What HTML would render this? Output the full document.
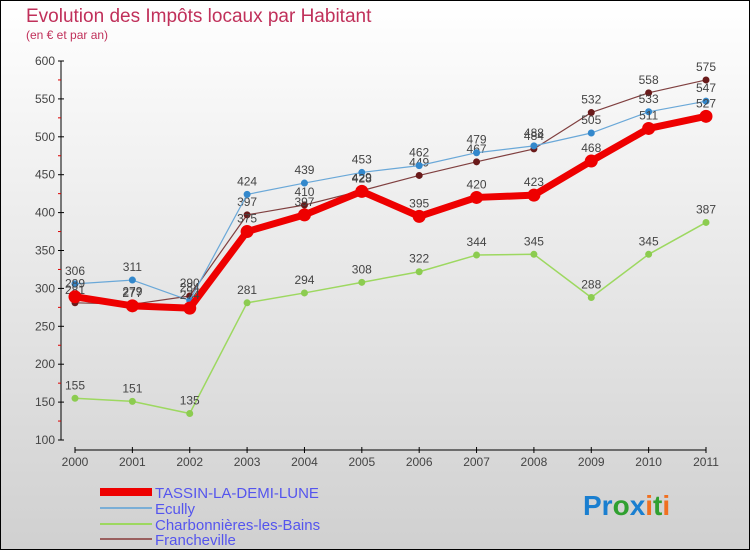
<!DOCTYPE html>
<html><head><meta charset="utf-8"><style>
body{margin:0;width:750px;height:550px;overflow:hidden;font-family:"Liberation Sans",sans-serif}
</style></head><body>
<svg id="c" width="750" height="550" xmlns="http://www.w3.org/2000/svg">
<defs><linearGradient id="bg" x1="0" y1="0" x2="0" y2="1"><stop offset="0" stop-color="#ffffff"/><stop offset="1" stop-color="#d0d0d0"/></linearGradient></defs>
<rect x="0.5" y="0.5" width="749" height="549" fill="url(#bg)" stroke="#000"/>
<text x="26" y="22" font-size="19" fill="#c0305a">Evolution des Impôts locaux par Habitant</text>
<text x="26" y="39" font-size="12" fill="#c0305a">(en € et par an)</text>
<g id="axes"></g><g id="series"></g>
<g>
<rect x="100" y="488" width="52" height="8" fill="#e00"/>
<line x1="100" y1="508" x2="152" y2="508" stroke="#7aaed6" stroke-width="2"/>
<line x1="100" y1="524" x2="152" y2="524" stroke="#9dd860" stroke-width="2"/>
<line x1="100" y1="539" x2="152" y2="539" stroke="#9a6060" stroke-width="2"/>
<text x="155" y="498" font-size="15" fill="#5555ee">TASSIN-LA-DEMI-LUNE</text>
<text x="155" y="514" font-size="15" fill="#5555ee">Ecully</text>
<text x="155" y="530" font-size="15" fill="#5555ee">Charbonnières-les-Bains</text>
<text x="155" y="545" font-size="15" fill="#5555ee">Francheville</text>
</g>
<text x="583" y="515" font-size="28" font-weight="bold"><tspan fill="#1a7fd0">Pr</tspan><tspan fill="#30a030">o</tspan><tspan fill="#1a7fd0">x</tspan><tspan fill="#f07020">i</tspan><tspan fill="#30a030">t</tspan><tspan fill="#f07020">i</tspan></text>
</svg>
<script>
const years=["2000","2001","2002","2003","2004","2005","2006","2007","2008","2009","2010","2011"];
const yTicks=[100,150,200,250,300,350,400,450,500,550,600];
const tassin=[289,277,274,375,397,428,395,420,423,468,511,527];
const ecully=[306,311,284,424,439,453,462,479,488,505,533,547];
const charb=[155,151,135,281,294,308,322,344,345,288,345,387];
const franch=[281,279,290,397,410,429,449,467,484,532,558,575];
const NS="http://www.w3.org/2000/svg";
const xS=i=>75+i*(706-75)/11;
const yS=v=>440-(v-100)*(440-61)/500;
function mk(t,a,p){const e=document.createElementNS(NS,t);for(const k in a)e.setAttribute(k,a[k]);p.appendChild(e);return e;}
const ax=document.getElementById('axes');
const ya=mk('line',{x1:61,y1:61,x2:61,y2:440,stroke:'#000'},ax);


for(let v=125;v<600;v+=50){mk('line',{x1:58,x2:61,y1:yS(v),y2:yS(v),stroke:'#d00'},ax);}
yTicks.forEach(v=>{mk('line',{x1:58,x2:64,y1:yS(v),y2:yS(v),stroke:'#000'},ax);
const t=mk('text',{x:55,y:yS(v)+4,'font-size':12,fill:'#444','text-anchor':'end'},ax);t.textContent=v;

});
const xa=mk('line',{x1:75,y1:450,x2:706,y2:450,stroke:'#000'},ax);


years.forEach((y,i)=>{mk('line',{x1:xS(i),x2:xS(i),y1:447,y2:453,stroke:'#000'},ax);
const t=mk('text',{x:xS(i),y:466,'font-size':12,fill:'#444','text-anchor':'middle'},ax);t.textContent=y;

});
const sg=document.getElementById('series');
function draw(data,color,w,r,mc,name){
const g=mk('g',{},sg);


mk('polyline',{points:data.map((v,i)=>xS(i)+','+yS(v)).join(' '),fill:'none',stroke:color,'stroke-width':w,'stroke-linejoin':'round'},g);
data.forEach((v,i)=>{const c=mk('circle',{cx:xS(i),cy:yS(v),r:r,fill:mc},g);


const t=mk('text',{x:xS(i),y:yS(v)-9,'font-size':12,fill:'#444','text-anchor':'middle'},g);t.textContent=v;

});
}
draw(charb,'#9dd860',1.5,3.5,'#8ccc50','series-charbonnieres');
draw(franch,'#804040',1.2,3.5,'#6a1a1a','series-francheville');
draw(ecully,'#6aa8d8',1.2,3.5,'#3388cc','series-ecully');
draw(tassin,'#ee0000',7,6.5,'#ee0000','series-tassin');
</script>
</body></html>
